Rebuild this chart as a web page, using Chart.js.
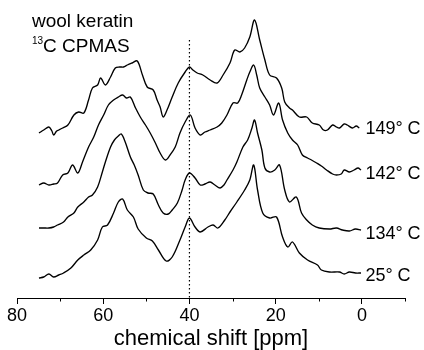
<!DOCTYPE html>
<html>
<head>
<meta charset="utf-8">
<script src="https://cdn.jsdelivr.net/npm/chart.js@4/dist/chart.umd.min.js"></script>
<style>
html,body{margin:0;padding:0;background:#fff;}
#wrap{width:424px;height:350px;}
</style>
</head>
<body>
<div id="wrap"><canvas id="c" width="424" height="350"></canvas></div>
<script>
// ---- data (chemical shift in ppm, intensity in arbitrary units) ----
const seriesLabels = ['25° C', '134° C', '142° C', '149° C'];
const stackOffsets = [25, 68, 128, 170];

const ppm25 = [74.9,73.8,72.6,71.5,70.3,69.2,67.5,65.9,64.5,62.9,61.3,60.2,59.0,57.6,56.5,55.5,54.4,53.0,51.9,50.0,48.6,47.2,45.4,44.0,42.2,41.0,40.0,38.7,37.5,35.7,34.5,33.4,31.8,30.6,29.0,27.2,26.0,25.1,24.2,23.0,21.4,19.8,18.4,17.2,16.1,14.5,12.6,10.3,9.4,7.5,5.2,4.1,2.9,1.5,0.2];
const int25 = [-5,-4,-1,-4,-2,0,5,13,18,23,33,46,48,60,71,74,63,56,44,35,32,23,12,16,33,46,55,46,41,46,48,45,53,61,71,83,93,108,83,60,55,56,36,26,31,20,13,8,3,1,1,-1,1,0,0];

const ppm134 = [74.9,73.8,72.6,71.5,70.6,69.2,68.2,66.8,65.9,64.5,63.4,62.5,61.3,60.2,59.5,58.3,57.4,56.5,55.8,54.9,53.7,52.8,51.9,50.7,49.6,48.4,47.2,46.1,44.9,44.0,42.8,41.7,41.0,40.0,38.7,37.5,36.4,35.2,34.1,32.9,32.0,31.3,29.9,29.0,27.6,26.5,25.5,24.9,24.2,23.2,22.5,21.4,20.2,19.1,17.9,16.8,15.2,14.0,12.8,11.5,9.9,7.5,5.9,4.5,2.9,1.5,0.2];
const int134 = [2,2,2,3,5,8,13,17,23,28,33,35,43,58,68,83,90,94,96,88,73,65,55,40,37,36,25,17,16,20,27,40,50,57,52,45,46,48,45,42,45,50,60,68,83,90,102,110,97,80,62,58,60,65,40,28,33,17,10,5,2,1,2,0,-1,1,0];

const ppm142 = [74.9,73.8,72.6,71.5,70.6,69.4,68.2,67.1,65.9,64.8,63.4,62.2,61.1,59.9,58.8,57.6,56.5,55.5,54.6,53.7,52.5,51.4,50.2,49.1,47.9,46.8,45.6,44.5,43.3,42.2,41.0,39.8,38.7,37.5,36.4,35.2,33.6,32.5,31.3,29.9,28.8,27.9,26.7,26.0,25.1,24.4,23.7,22.5,21.4,20.5,19.3,18.4,17.2,16.1,14.9,13.8,12.6,11.7,10.5,9.4,8.2,6.8,5.9,4.8,4.1,2.9,1.8,0.9,0.2];
const int142 = [-15,-13,-15,-14,-13,-5,-3,5,-3,8,23,33,45,55,65,70,73,75,72,73,62,53,45,37,27,17,10,15,23,37,48,55,42,35,38,40,43,47,55,67,67,75,90,98,105,95,82,73,65,55,67,50,37,30,25,15,12,10,7,4,0,-4,-5,-4,0,-2,0,2,0];

const ppm149 = [74.9,73.8,72.6,71.9,71.5,70.8,70.3,69.4,68.2,66.8,65.7,64.5,63.4,62.5,61.3,60.6,59.5,58.3,57.2,56.2,55.3,54.4,53.3,52.1,50.9,49.8,48.4,47.5,46.8,46.1,45.2,44.0,42.6,41.0,40.0,39.2,38.2,36.9,35.2,33.6,32.2,30.6,29.5,28.3,27.2,26.0,24.9,23.7,22.5,21.4,19.8,18.6,17.9,16.8,16.1,14.5,12.8,11.5,9.9,8.9,8.0,6.8,5.9,5.2,4.1,3.4,2.2,1.3,0.6];
const int149 = [-5,-2,1,-3,-7,-3,-2,0,3,13,16,15,28,40,43,50,43,51,60,61,61,63,65,67,53,41,38,28,21,11,18,31,45,56,61,58,55,53,48,45,53,65,78,76,80,91,108,88,68,53,50,40,26,20,18,11,11,5,3,-2,-2,3,1,0,4,3,0,2,0];

const axisMin = -10, axisMax = 80;
const majorTicks = [80, 60, 40, 20, 0];
const minorTicks = [70, 50, 30, 10, -10];
const referenceShift = 40;
const referenceTop = 258;

const ppmSets = [ppm25, ppm134, ppm142, ppm149];
const intSets = [int25, int134, int142, int149];

const datasets = ppmSets.map((p, k) => ({
  label: seriesLabels[k],
  data: p.map((x, i) => ({x: x, y: intSets[k][i] + stackOffsets[k]})),
  borderColor: '#000',
  borderWidth: 1.35,
  pointRadius: 0,
  tension: 0.35,
  fill: false
}));
datasets.push({
  label: 'ref',
  data: [{x: referenceShift, y: referenceTop}, {x: referenceShift, y: 0}],
  borderColor: '#000',
  borderWidth: 1.2,
  borderDash: [1.5, 2.5],
  pointRadius: 0,
  fill: false
});

const FONT = "'Liberation Sans', Arial, sans-serif";

const overlay = {
  id: 'overlay',
  afterDraw(chart) {
    const ctx = chart.ctx;
    const xs = chart.scales.x, ys = chart.scales.y;
    const ca = chart.chartArea;
    ctx.save();
    // minor tick marks
    ctx.strokeStyle = '#000';
    ctx.lineWidth = 1;
    const axisY = Math.round(ys.getPixelForValue(0)) + 0.5;
    minorTicks.forEach(v => {
      const px = Math.round(xs.getPixelForValue(v)) + 0.5;
      ctx.beginPath();
      ctx.moveTo(px, axisY);
      ctx.lineTo(px, axisY + 3);
      ctx.stroke();
    });
    // series labels
    ctx.fillStyle = '#000';
    ctx.font = '18px ' + FONT;
    ctx.textAlign = 'left';
    ctx.textBaseline = 'middle';
    const dy = [3, 4, 4, 1];
    seriesLabels.forEach((t, k) => {
      ctx.fillText(t, xs.getPixelForValue(0) + 3.5, ys.getPixelForValue(stackOffsets[k]) + dy[k]);
    });
    // header text
    ctx.textBaseline = 'alphabetic';
    ctx.font = '19px ' + FONT;
    ctx.fillText('wool keratin', ca.left + 15, ca.top + 17);
    ctx.font = '10px ' + FONT;
    ctx.fillText('13', ca.left + 15, ca.top + 34);
    ctx.font = '19px ' + FONT;
    ctx.fillText('C CPMAS', ca.left + 26, ca.top + 42);
    ctx.restore();
  }
};

new Chart(document.getElementById('c'), {
  type: 'line',
  data: { datasets: datasets },
  options: {
    responsive: false,
    animation: false,
    layout: { padding: { left: 17, right: 19, top: 10, bottom: 0 } },
    plugins: { legend: { display: false }, tooltip: { enabled: false } },
    scales: {
      x: {
        type: 'linear',
        reverse: true,
        min: axisMin,
        max: axisMax,
        afterBuildTicks: s => { s.ticks = majorTicks.map(v => ({value: v})); },
        afterFit: s => { s.height = 52; },
        grid: { display: true, drawOnChartArea: false, drawTicks: true, tickLength: 6, color: '#000', lineWidth: 1 },
        border: { display: true, color: '#000', width: 1 },
        ticks: { color: '#000', padding: 1, maxRotation: 0, autoSkip: false, font: { family: FONT, size: 18 } },
        title: { display: true, text: 'chemical shift [ppm]', color: '#000', padding: 0, font: { family: FONT, size: 22, lineHeight: 1 } }
      },
      y: {
        type: 'linear',
        display: false,
        min: 0,
        max: 288
      }
    }
  },
  plugins: [overlay]
});
</script>
</body>
</html>
